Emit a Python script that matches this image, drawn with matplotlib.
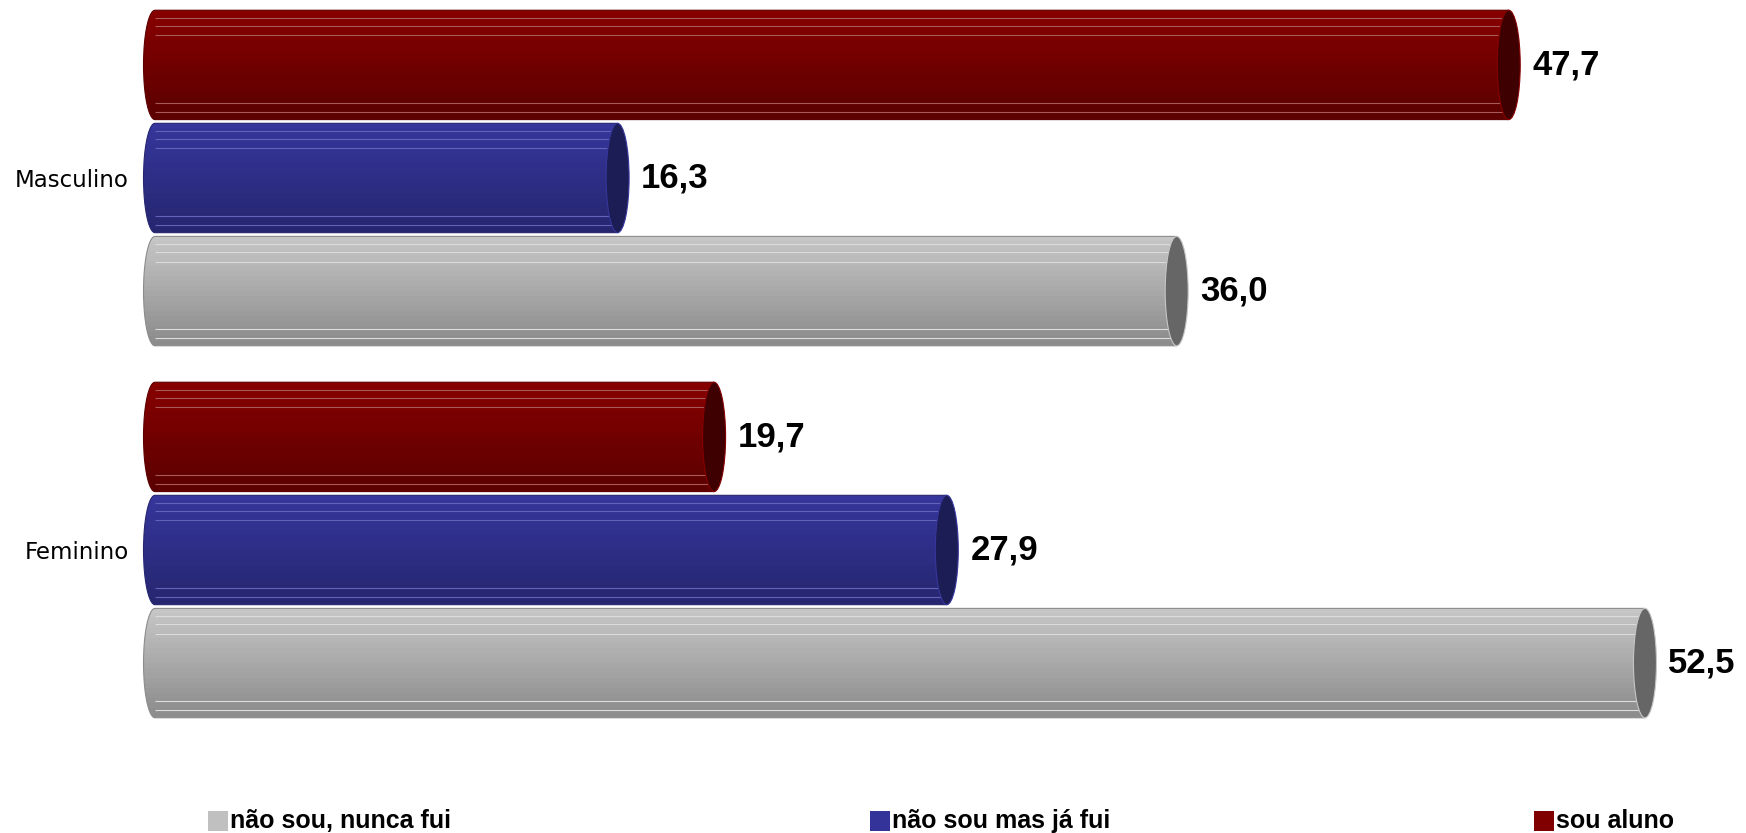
import matplotlib
matplotlib.use('Agg')
import matplotlib.pyplot as plt
import numpy as np
from matplotlib.patches import Ellipse, Rectangle, PathPatch
from matplotlib.path import Path
from matplotlib.colors import LinearSegmentedColormap

# data
categories = ['Masculino', 'Feminino']
series_names = ['sou aluno', 'não sou mas já fui', 'não sou, nunca fui']
sou_aluno = [47.7, 19.7]
ja_fui = [16.3, 27.9]
nunca_fui = [36.0, 52.5]

# colours: (top, bottom, cap, stripe)
styles = [
    ('#860000', '#5c0000', '#3e0000', '#a85a5a'),
    ('#36369c', '#262670', '#1d1d55', '#6262b8'),
    ('#c6c6c6', '#8c8c8c', '#666666', '#dcdcdc'),
]
legend_colors = ['#c0c0c0', '#333399', '#800000']

W, H = 1746, 833
px_per_unit = 28.38
cap_a = 11.5 / px_per_unit      # half width of the end ellipses
bar_h = 0.294
offsets = [-0.304, 0.0, 0.304]
stripes = [0.07, 0.14, 0.23, 0.85, 0.93]

fig = plt.figure(figsize=(W / 100, H / 100), dpi=100)
ax = fig.add_axes([140 / W, 0, (W - 140) / W, 1])


def cylinder(value, yc, style):
    top, bottom, cap, stripe = style
    h2 = bar_h / 2
    t = np.linspace(np.pi / 2, 3 * np.pi / 2, 50)
    verts = list(zip(cap_a * np.cos(t), yc + h2 * np.sin(t)))
    verts += [(value, yc - h2), (value, yc + h2), verts[0]]
    codes = [Path.MOVETO] + [Path.LINETO] * (len(verts) - 2) + [Path.CLOSEPOLY]
    body = PathPatch(Path(verts, codes), facecolor='none', edgecolor=bottom, lw=0.8, zorder=3)
    ax.add_patch(body)

    cmap = LinearSegmentedColormap.from_list('g', [top, bottom])
    grad = np.linspace(0, 1, 22).reshape(-1, 1)
    im = ax.imshow(grad, cmap=cmap, aspect='auto', interpolation='nearest',
                   extent=(-cap_a, value, yc + h2, yc - h2), zorder=2)
    im.set_clip_path(body)

    for f in stripes:
        ln = ax.hlines(yc - h2 + f * bar_h, 0, value, color=stripe, lw=0.8, zorder=2.5)
        ln.set_clip_path(body)

    ax.add_patch(Ellipse((value, yc), 2 * cap_a, bar_h, facecolor=cap,
                         edgecolor=top, lw=0.8, zorder=4))

    label = f'{value:.1f}'.replace('.', ',')
    ax.text(value + cap_a + 12 / px_per_unit, yc, label, ha='left', va='center',
            fontsize=25, fontweight='bold', family='Liberation Sans', zorder=5)


for s, vals in enumerate([sou_aluno, ja_fui, nunca_fui]):
    for i, v in enumerate(vals):
        cylinder(v, i + offsets[s], styles[s])

ax.set_xlim(-15 / px_per_unit, (W - 155) / px_per_unit)
ax.set_ylim((H - 178) / 372, -178 / 372)
ax.set_yticks(range(len(categories)))
ax.set_yticklabels(categories, fontsize=16.5, family='DejaVu Sans')
ax.tick_params(axis='y', length=0, pad=8)
ax.set_xticks([])
for sp in ax.spines.values():
    sp.set_visible(False)

# legend
legend_names = [series_names[2], series_names[1], series_names[0]]
legend_x = [208, 870, 1534]
for name, col, x in zip(legend_names, legend_colors, legend_x):
    fig.add_artist(Rectangle((x / W, 2 / H), 20 / W, 20 / H, transform=fig.transFigure,
                             facecolor=col, edgecolor='none'))
    fig.text((x + 22) / W, 12 / H, name, ha='left', va='center', fontsize=18,
             fontweight='bold', family='Liberation Sans')

fig.savefig('out.png', dpi=100)
